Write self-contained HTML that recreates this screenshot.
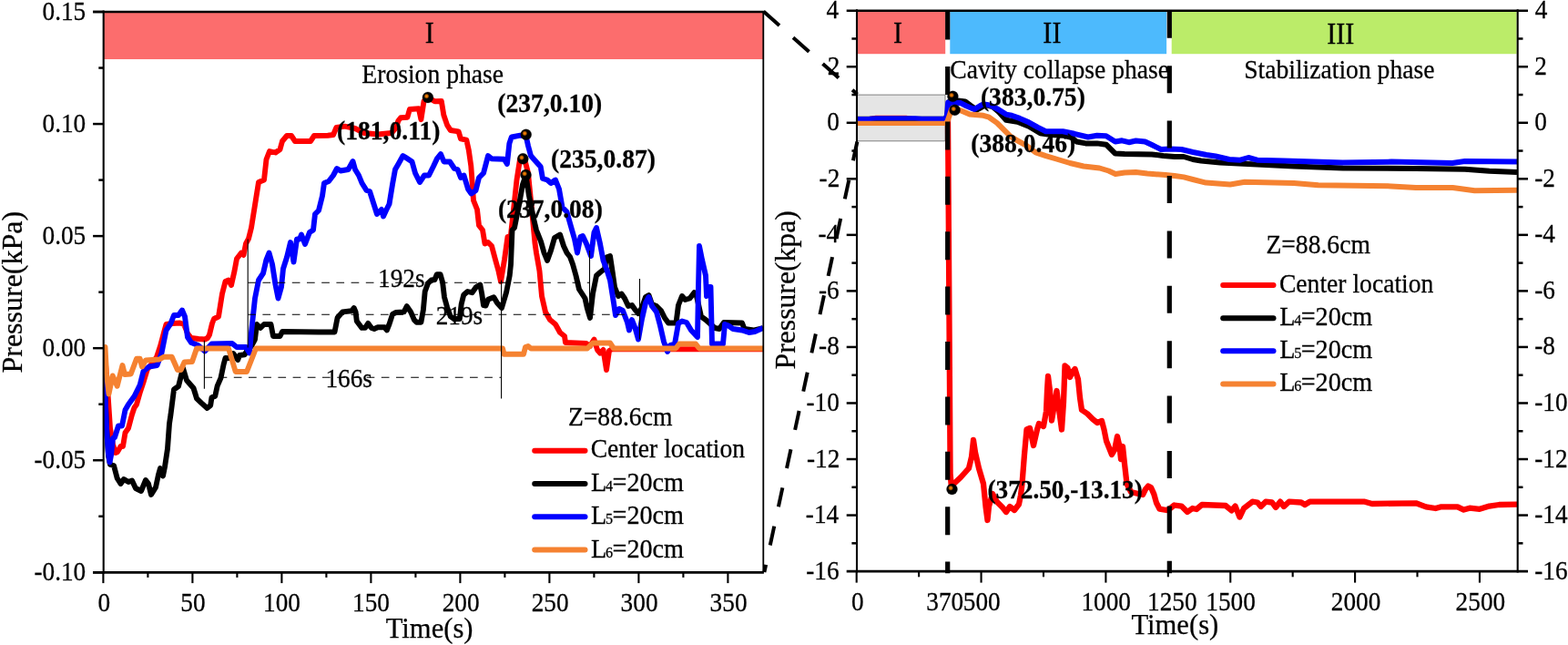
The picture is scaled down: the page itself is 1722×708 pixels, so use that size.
<!DOCTYPE html>
<html><head><meta charset="utf-8"><title>Pressure chart</title>
<style>html,body{margin:0;padding:0;background:#fff;overflow:hidden}svg{display:block}</style></head>
<body>
<svg width="1722" height="708" viewBox="0 0 1722 708" font-family="'Liberation Serif', serif" fill="#000" stroke-linecap="butt">
<defs><radialGradient id="ball" cx="0.5" cy="0.5" r="0.5"><stop offset="0" stop-color="#ff8c10"/><stop offset="0.45" stop-color="#d06a00"/><stop offset="1" stop-color="#000"/></radialGradient>
<clipPath id="cl"><rect x="113.7" y="13" width="724.6" height="615.3"/></clipPath>
<clipPath id="cr"><rect x="941" y="11.7" width="725.7" height="615.3"/></clipPath></defs>
<rect width="1722" height="708" fill="#fff"/>
<g stroke="#000" stroke-width="0.25" id="chart-left">
<rect x="113.7" y="13.0" width="724.6" height="52" fill="#FC6D6D" stroke="none"/>
<g clip-path="url(#cl)" stroke-width="0">
<polyline points="114,382 116,400 119,440 121,470 124,488 127,497 129,496 132.5,490 135,490 137.5,475 141,470 145,455 147.5,447.5 150,444 154,430 158,418 162,405 168,398 172,392 176,380 180,365 182.5,356 190,355 197.5,354.5 202,356 206,366 210,371 218,372 225,372.5 228,371 230,367.5 233,355 235,350 240,347.5 242,335 244,322.5 247.5,309 251,307.5 254,313 257.5,297.5 260,284 265,277.5 267.5,280 270,267.5 273,262 276,250 280,225 284,200 290,197.5 292.5,175 296,166 302.5,167.5 307.5,164 310,155 315,149 320,149 324,155 341,155 345,149 360,148.7 366,148 369.4,140 378.7,138.7 390,141 400,146 415,147.5 430,146 435,140 437.4,132.5 440,129.3 447.4,128.7 449.9,120 459.9,119.3 462.4,131.2 465.5,111.2 469.9,106.9 477.4,111.2 484.8,111 487.3,126.2 491.1,137.4 494.8,143 503.6,144.3 506,152.4 512.3,153.7 514.8,164.9 517.3,182.4 520,220 524,230 526,247.5 530,252.5 532.5,267.5 536,266 540,270 544,285 547.5,297.5 550,309 554,285 557.5,260 560,267 564,230 567.5,197.5 571,175 576,174 580,190 584,230 587.5,267 589,277.5 592.5,297.5 595,325 599,342.5 604,351 610,356 615,365 620,369 621,376 644,377 648,380 652.5,372.5 656,384 659,387.5 662.5,384 666,406 669,385 672,383.3 838,383.3" fill="none" stroke="#FF0000" stroke-width="5.9" stroke-linejoin="round" stroke-linecap="butt" />
<polyline points="114,382 115,420 117,470 119,500 121,510 125,511 128.7,525 132.5,531 136,526 141,529 145,527.5 149,536 155,539 160,527 163,531 166,543 171,535 174,521 176,514 179,522.5 181,512.5 184,492.5 186,465 187.5,455 191,427.5 196,424 201,404 205,417.5 212.5,426 215,434 216,437.4 221.2,442.4 227.5,448 231.2,444.9 232.5,436.2 236.2,434.9 238.7,423.7 242.5,414.9 245.6,400 247.5,393 251.2,393.1 256.2,388.1 261.2,395 263.1,390 268.7,389.3 271.2,385 276,380 280,372.5 282,356 286,360 290,356 297.5,356 300,369 307.5,369 310,364 350,364.5 367.5,364.5 370.6,348.7 376.2,342.4 386.2,341.2 388.7,338 390.6,342.4 391.8,352.4 397.4,359.9 401,359.9 404.3,354.9 408,359.9 411,361 414.9,359.3 422.4,359.3 424.9,362.4 427.4,356.2 431.1,344.9 434.9,343 443.6,342.4 446.8,336.2 451.1,342.4 454.9,351.2 457.4,353.7 462.4,353.7 464.9,340 466.7,320 469.9,311.2 473.6,307.5 477.4,307 479.8,301.2 483.6,301.2 486.1,310 488,326.2 491.1,337.4 494.8,347.4 498.6,350 504.8,350 506.7,333.7 509.2,323.7 513.5,320 518.5,321.2 522.9,315 527.3,312.5 529.2,322.5 531,335 533.5,335.5 536,328.7 542.3,326.2 546,332.5 551,338 556,321.2 559.7,302.5 561,290 562.5,252.5 565,250 570,225 574,202.5 577.5,192.5 581,215 586,240 589,252.5 594,265 597.5,277.5 601,286 605,275 609,261 615,257.5 619,270 622.5,277.5 626,282 629,290 632.5,302.5 636,317.5 642.5,327.5 645,339 648,349 651,322.5 655,302.5 659,299 664,295 666,282.5 670,281 672.5,297.5 675,315 679,325 682.5,322.5 686,327.5 690,336 694,335 697.5,340 701,344 705,337.5 709,326 712.5,324 716,334 721,336 726,341 730,349 734,354.5 742.5,354.5 745,335 749,325 752.5,329 757.5,327.5 762.5,321 765,325 770,347.5 775,351 785,360 790,361 795,354 815,354.5 817.5,361 827.5,362.5 838,360" fill="none" stroke="#000000" stroke-width="5.9" stroke-linejoin="round" stroke-linecap="butt" />
<polyline points="114,382 115,420 117,470 119,498 120.5,507.5 122,500 124,481 126,480 130,467.5 134,467.5 137.5,450 141,444 147.5,435 153.7,422.5 157.5,407.5 163.7,402.5 172.5,401 177.5,387.5 182.5,362.5 187.5,355 191,346 196,346 200,340.5 203,347.5 206,370 210,376 217.5,379 225,385.5 232.5,377.5 255,377 260,381 270,381 274,387.5 276,365 280,327.5 284,307.5 289,300 292.5,285 295.5,277.5 299,290 302.5,312.5 305.5,327.5 309,315 311,295 315,282.5 319,266 322.5,287.5 326,262.5 329,262.5 331,257.5 335,268 340,255 344,252.5 346,235 350,231 354,215 356,201 361,199 366,192.5 370,185 374,187.5 382.5,186 387.5,177 390,186 394,192.5 397.5,201 402.5,209 406,210 410,222.5 414,235 419,230 421,237.5 424,231 427.5,224 431,202.5 434,186 437.5,180 442.5,171 445,172.5 452.5,177.5 456,190 461,200 466,192.5 471,192.5 476,182.5 480,174 484,169 487.5,177.5 494,177.5 499,185 502.5,186 506,195 509.5,192.5 514,207.5 517.5,212.5 522.5,209 526,195 531,190 536,171 540,174.3 553.7,174.8 556.9,180 559.4,157.4 561.8,150.5 571.2,148.7 577.5,148.7 580,160 583,171 587.4,176 593.7,183 596,196 601,197.5 605,201 610,197.5 614,207.5 617.5,227.5 622.5,232.5 626,245 631,262.5 634,277.5 637.5,260 640,259 644,267.5 649,281 652.5,255 655,250 659,267.5 662.5,286 666,295 670,307.5 674,332.5 676,346 680,339 684,341 689,354 691,362.5 694,351 697.5,360 701,372.5 705,350 709,332.5 712.5,326 716,336 721,342.5 725,357.5 729,375 733,386 736,379 741,377.5 745,355 749,352.5 754,354 759,362.5 766,370 767,315 768,270 771,285 775,302.5 776,325 779,315 780.5,315 782,377.5 794,377.5 796,356 800,357.5 805,361 815,362.5 822.5,365 829,364 838,360" fill="none" stroke="#0000FF" stroke-width="5.9" stroke-linejoin="round" stroke-linecap="butt" />
<polyline points="114,382 115.5,381 117,410 119.5,432.5 123.7,412.5 128.7,423.7 134.5,401 137,411 143.7,410.5 150,393.7 153.7,393.7 156,402.5 160,395.5 175,394.5 180,391.7 188.7,391.7 195,406 198.7,406 202.5,397.5 211,397 216,382.5 251,382.5 258.7,408 271,408 281,382.5 552,382.5 553.5,388.7 575,388.7 577,381 580,380 583,382.5 645,382.5 651,376.5 670,376.5 674,382.5 742,382.5 746,377.5 764,377.5 768,382.5 838,382.5" fill="none" stroke="#F58231" stroke-width="5.9" stroke-linejoin="round" stroke-linecap="butt" />
</g>
<line x1="224.4" y1="373.7" x2="224.4" y2="426.8" stroke="#000" stroke-width="1.1" />
<line x1="272.2" y1="262.5" x2="272.2" y2="381.5" stroke="#000" stroke-width="1.1" />
<line x1="550.6" y1="307.5" x2="550.6" y2="437.5" stroke="#000" stroke-width="1.1" />
<line x1="647.5" y1="275" x2="647.5" y2="347.5" stroke="#000" stroke-width="1.1" />
<line x1="702.5" y1="306" x2="702.5" y2="372.5" stroke="#000" stroke-width="1.1" />
<line x1="272.2" y1="310.3" x2="647.5" y2="310.3" stroke="#000" stroke-width="1.1" stroke-dasharray="8.7 7.5"/>
<line x1="272.2" y1="345.3" x2="702.5" y2="345.3" stroke="#000" stroke-width="1.1" stroke-dasharray="8.7 7.5"/>
<line x1="224.4" y1="414.3" x2="550.6" y2="414.3" stroke="#000" stroke-width="1.1" stroke-dasharray="8.7 7.5"/>
<text transform="translate(415.01 315) scale(1.01 1.06)" font-size="27">192s</text>
<text transform="translate(478.64 356.2) scale(1.01 1.06)" font-size="27">219s</text>
<text transform="translate(357.41 424.7) scale(1.01 1.06)" font-size="27">166s</text>
<line x1="113.7" y1="11.6" x2="113.7" y2="629.7" stroke="#000" stroke-width="2.1" />
<line x1="102.1" y1="628.3" x2="838.9" y2="628.3" stroke="#000" stroke-width="2.7" />
<line x1="102.1" y1="13" x2="838.9" y2="13" stroke="#000" stroke-width="2.5" />
<line x1="838.3" y1="13" x2="838.3" y2="628.3" stroke="#000" stroke-width="1.8" />
<line x1="102.1" y1="13" x2="113.7" y2="13" stroke="#000" stroke-width="2.5" />
<text transform="translate(46.5 22) scale(1.01 1.125)" font-size="27">0.15</text>
<line x1="108.3" y1="74.53" x2="113.7" y2="74.53" stroke="#000" stroke-width="2.5" />
<line x1="102.1" y1="136.06" x2="113.7" y2="136.06" stroke="#000" stroke-width="2.5" />
<text transform="translate(46.5 145.06) scale(1.01 1.125)" font-size="27">0.10</text>
<line x1="108.3" y1="197.59" x2="113.7" y2="197.59" stroke="#000" stroke-width="2.5" />
<line x1="102.1" y1="259.12" x2="113.7" y2="259.12" stroke="#000" stroke-width="2.5" />
<text transform="translate(46.5 268.12) scale(1.01 1.125)" font-size="27">0.05</text>
<line x1="108.3" y1="320.65" x2="113.7" y2="320.65" stroke="#000" stroke-width="2.5" />
<line x1="102.1" y1="382.18" x2="113.7" y2="382.18" stroke="#000" stroke-width="2.5" />
<text transform="translate(46.5 391.18) scale(1.01 1.125)" font-size="27">0.00</text>
<line x1="108.3" y1="443.71" x2="113.7" y2="443.71" stroke="#000" stroke-width="2.5" />
<line x1="102.1" y1="505.24" x2="113.7" y2="505.24" stroke="#000" stroke-width="2.5" />
<text transform="translate(37.43 514.24) scale(1.01 1.125)" font-size="27">-0.05</text>
<line x1="108.3" y1="566.77" x2="113.7" y2="566.77" stroke="#000" stroke-width="2.5" />
<line x1="102.1" y1="628.3" x2="113.7" y2="628.3" stroke="#000" stroke-width="2.5" />
<text transform="translate(37.43 637.3) scale(1.01 1.125)" font-size="27">-0.10</text>
<line x1="113.4" y1="628.3" x2="113.4" y2="640.1" stroke="#000" stroke-width="2.1" />
<text transform="translate(107.38 670.8) scale(1.01 1.125)" font-size="27">0</text>
<line x1="162.4" y1="628.3" x2="162.4" y2="633.9" stroke="#000" stroke-width="2.1" />
<line x1="211.4" y1="628.3" x2="211.4" y2="640.1" stroke="#000" stroke-width="2.1" />
<text transform="translate(198.29 670.8) scale(1.01 1.125)" font-size="27">50</text>
<line x1="260.4" y1="628.3" x2="260.4" y2="633.9" stroke="#000" stroke-width="2.1" />
<line x1="309.4" y1="628.3" x2="309.4" y2="640.1" stroke="#000" stroke-width="2.1" />
<text transform="translate(289.07 670.8) scale(1.01 1.125)" font-size="27">100</text>
<line x1="358.4" y1="628.3" x2="358.4" y2="633.9" stroke="#000" stroke-width="2.1" />
<line x1="407.4" y1="628.3" x2="407.4" y2="640.1" stroke="#000" stroke-width="2.1" />
<text transform="translate(387.07 670.8) scale(1.01 1.125)" font-size="27">150</text>
<line x1="456.4" y1="628.3" x2="456.4" y2="633.9" stroke="#000" stroke-width="2.1" />
<line x1="505.4" y1="628.3" x2="505.4" y2="640.1" stroke="#000" stroke-width="2.1" />
<text transform="translate(485.68 670.8) scale(1.01 1.125)" font-size="27">200</text>
<line x1="554.4" y1="628.3" x2="554.4" y2="633.9" stroke="#000" stroke-width="2.1" />
<line x1="603.4" y1="628.3" x2="603.4" y2="640.1" stroke="#000" stroke-width="2.1" />
<text transform="translate(583.68 670.8) scale(1.01 1.125)" font-size="27">250</text>
<line x1="652.4" y1="628.3" x2="652.4" y2="633.9" stroke="#000" stroke-width="2.1" />
<line x1="701.4" y1="628.3" x2="701.4" y2="640.1" stroke="#000" stroke-width="2.1" />
<text transform="translate(681.61 670.8) scale(1.01 1.125)" font-size="27">300</text>
<line x1="750.4" y1="628.3" x2="750.4" y2="633.9" stroke="#000" stroke-width="2.1" />
<line x1="799.4" y1="628.3" x2="799.4" y2="640.1" stroke="#000" stroke-width="2.1" />
<text transform="translate(779.61 670.8) scale(1.01 1.125)" font-size="27">350</text>
<text transform="translate(423.76 699.9) scale(1.0 1.0)" font-size="30.6">Time(s)</text>
<text transform="translate(23.6 320.7) rotate(-90)" font-size="32" text-anchor="middle">Pressure(kPa)</text>
<text transform="translate(466.78 46.8) scale(1.0 1.08)" font-size="30.2">I</text>
<text transform="translate(397.34 91.2) scale(1.023 1.07)" font-size="27">Erosion phase</text>
<circle cx="469.9" cy="106.9" r="6.0" fill="#000"/>
<circle cx="468.5" cy="105.6" r="3.12" fill="url(#ball)"/>
<circle cx="577.7" cy="147.7" r="6.0" fill="#000"/>
<circle cx="576.3" cy="146.4" r="3.12" fill="url(#ball)"/>
<circle cx="574.3" cy="174.3" r="6.0" fill="#000"/>
<circle cx="572.9" cy="173" r="3.12" fill="url(#ball)"/>
<circle cx="577.5" cy="192" r="6.0" fill="#000"/>
<circle cx="576.1" cy="190.7" r="3.12" fill="url(#ball)"/>
<text transform="translate(370.03 153) scale(1.022 1.08)" font-size="27" font-weight="bold">(181,0.11)</text>
<text transform="translate(546.33 123.1) scale(1.022 1.08)" font-size="27" font-weight="bold">(237,0.10)</text>
<text transform="translate(605.03 183.6) scale(1.022 1.08)" font-size="27" font-weight="bold">(235,0.87)</text>
<text transform="translate(546.93 238.6) scale(1.022 1.08)" font-size="27" font-weight="bold">(237,0.08)</text>
<text transform="translate(623.89 467) scale(1.023 1.055)" font-size="27">Z=88.6cm</text>
<line x1="587.2" y1="494.7" x2="642.5" y2="494.7" stroke="#FF0000" stroke-width="6" stroke-linecap="round"/>
<text transform="translate(648.7 502.4) scale(1.023 1.055)" font-size="27">Center location</text>
<line x1="587.2" y1="531" x2="642.5" y2="531" stroke="#000000" stroke-width="6" stroke-linecap="round"/>
<text transform="translate(649.02 539) scale(1.045 1.055)" font-size="27">L<tspan font-size="15.5" dx="-1.2">4</tspan><tspan dx="-0.6">=20cm</tspan></text>
<line x1="587.2" y1="567.3" x2="642.5" y2="567.3" stroke="#0000FF" stroke-width="6" stroke-linecap="round"/>
<text transform="translate(649.02 575.3) scale(1.045 1.055)" font-size="27">L<tspan font-size="15.5" dx="-1.2">5</tspan><tspan dx="-0.6">=20cm</tspan></text>
<line x1="587.2" y1="603.5" x2="642.5" y2="603.5" stroke="#F58231" stroke-width="6" stroke-linecap="round"/>
<text transform="translate(649.02 611.5) scale(1.045 1.055)" font-size="27">L<tspan font-size="15.5" dx="-1.2">6</tspan><tspan dx="-0.6">=20cm</tspan></text>
<line x1="838.5" y1="12.6" x2="941.5" y2="103.6" stroke="#000" stroke-width="4" stroke-dasharray="23.3 20.1"/>
<line x1="839.4" y1="628" x2="941.4" y2="155.5" stroke="#000" stroke-width="4" stroke-dasharray="21.3 21.9" stroke-dashoffset="13"/>
</g>
<g stroke="#000" stroke-width="0.25" id="chart-right">
<rect x="941.0" y="12.8" width="97.2" height="46.4" fill="#FC6D6D" stroke="none"/>
<rect x="1043.3" y="12.8" width="237.8" height="46.4" fill="#4DBAFD" stroke="none"/>
<rect x="1286.7" y="12.8" width="378.9" height="46.4" fill="#BBEC69" stroke="none"/>
<rect x="941.5" y="104.1" width="96.5" height="50.7" fill="#E5E5E5" stroke="#808080" stroke-width="1"/>
<g clip-path="url(#cr)" stroke-width="0">
<polyline points="941,130.5 955,130.4 962,129.3 995,129.3 1002,130.4 1038,130.5 1041,131" fill="none" stroke="#FF0000" stroke-width="5.0" stroke-linejoin="round" stroke-linecap="butt" />
<polyline points="1038,130.5 1041,131 1041.5,200 1042.8,400 1043.6,520 1045,536 1047.5,531 1055,524 1064,514 1067,501.5 1069,483 1071,496.5 1075,514 1080,531 1082.5,556 1084.5,571 1086,556 1090,542 1095,551 1101,557 1105,562 1109,556 1114,560 1119,553.5 1121,543.5 1122.5,531 1125,499 1127.5,471.5 1131,470 1135,489 1139,471.5 1141,465 1146,468 1149,451.5 1150,429 1151,413 1153,429 1155,461.5 1158,444 1160.5,429 1163,449 1166,471.5 1168,441.5 1169.5,401.5 1172.5,404 1175,414 1178,408 1180.5,405 1184,416.5 1186,436.5 1188,450 1194,454 1200,460 1205,464 1210,462 1212.5,471.5 1215,484 1221,499 1224,494 1227,479 1229.5,490 1231,504 1233,490 1235,509 1237.5,531 1242,540 1250,542 1255,543 1258,537 1261,533.5 1264,535 1267.3,542.4 1270,552 1273.5,558.7 1281,560 1284,559 1289.6,554.5 1297.5,555.6 1304,562 1309.6,558 1314,559 1320,554 1346,555 1352.5,560.4 1356.6,555.6 1361.4,567.6 1366,558 1375.4,550.7 1381,551.5 1384.7,556 1390,550.7 1397,551.5 1401,557 1406,550.7 1410,556 1415.6,550.7 1429,551.5 1433,554 1438.4,550.7 1498.8,550.7 1506.8,553 1555,552.3 1566,556.4 1576.6,558 1582,556.4 1600.7,556.4 1607.5,559.6 1614,557.7 1625,558.8 1635.6,555.6 1646.4,554 1666,553.7" fill="none" stroke="#FF0000" stroke-width="6.3" stroke-linejoin="round" stroke-linecap="butt" />
<polyline points="941,130.3 1039,130.3 1040.5,125" fill="none" stroke="#000000" stroke-width="5.2" stroke-linejoin="round" stroke-linecap="butt" />
<polyline points="1039,130.3 1040.5,125 1042,112 1052,110.5 1060,111.5 1066,116 1072.5,120.5 1077.5,118 1082.5,115 1090,117 1097,123 1104.9,131.8 1117.4,133.7 1129.9,138.7 1142.4,146.2 1154.8,148 1167.3,148.7 1177.3,151.2 1182.3,155.5 1192.3,157.4 1204.8,157.4 1214.8,158.7 1219.8,163.7 1224.8,168.6 1235,169 1265,169.5 1277.5,171 1290,172 1300,172 1310,175 1319,176.5 1340,178.4 1421,182.4 1474.6,184.6 1555,185 1609,185.7 1635.6,187.8 1666,189" fill="none" stroke="#000000" stroke-width="6.0" stroke-linejoin="round" stroke-linecap="butt" />
<polyline points="941,130.6 955,130.4 962,129.8 1005,129.8 1012,130.4 1039,130.4 1040.2,125" fill="none" stroke="#0000FF" stroke-width="5.2" stroke-linejoin="round" stroke-linecap="butt" />
<polyline points="1039,130.4 1040.2,125 1041.2,112.5 1055,113.1 1061.2,116.2 1070,120 1076.2,116.2 1079.9,114.3 1087.4,115.6 1096.2,120 1104.9,125.6 1111.1,126.8 1119.9,129.9 1129.9,134.3 1139.9,139.9 1148.6,144.3 1167.3,144.3 1179.8,146.8 1194.8,150.5 1204.8,148.7 1214.8,149.3 1224.8,155.5 1232.2,154.3 1239.7,156.2 1247.5,154.5 1257.5,155.5 1265,159 1275,164 1285,163.5 1297.5,164 1310,167 1325,170 1335,171.5 1350,175 1362,175.7 1371,173 1380.7,175.7 1410,176.5 1474.6,178.4 1528,177.6 1595,179 1608.8,177 1666,177.6" fill="none" stroke="#0000FF" stroke-width="6.0" stroke-linejoin="round" stroke-linecap="butt" />
<polyline points="941,135.4 1039,135.4 1040.5,133" fill="none" stroke="#F58231" stroke-width="5.2" stroke-linejoin="round" stroke-linecap="butt" />
<polyline points="1039,135.4 1040.5,133 1042.5,127.4 1045,120 1055,121.2 1065,125.6 1080,126.8 1086.2,128.7 1094.9,134.9 1102.4,142.4 1109.9,149.9 1117.4,154.3 1127.4,159.9 1137.4,167.4 1148.6,171.1 1160,174.5 1175,179 1190,182.5 1207.5,184.5 1217.5,187.5 1225,191 1235,189.5 1247.5,189 1260,190.5 1280,192 1290,193 1300,194.4 1310,197 1324.4,200.6 1351,202.5 1367,199.8 1421,201 1447.8,203.3 1528,204.4 1555,206 1595.4,206 1619.5,209.2 1666,208.7" fill="none" stroke="#F58231" stroke-width="6.0" stroke-linejoin="round" stroke-linecap="butt" />
</g>
<line x1="1040.7" y1="12.6" x2="1040.7" y2="629.3" stroke="#000" stroke-width="5.2" stroke-dasharray="31 29.4"/>
<line x1="1284.3" y1="11.8" x2="1284.3" y2="629.3" stroke="#000" stroke-width="5.2" stroke-dasharray="30 30.4"/>
<line x1="941" y1="10.3" x2="941" y2="628.5" stroke="#000" stroke-width="2.1" />
<line x1="1666.7" y1="10.3" x2="1666.7" y2="628.5" stroke="#000" stroke-width="2.1" />
<line x1="929.7" y1="627.1" x2="1678" y2="627.1" stroke="#000" stroke-width="2.7" />
<line x1="929.7" y1="11.7" x2="1678" y2="11.7" stroke="#000" stroke-width="2.4" />
<text transform="translate(907.57 20.2) scale(1.01 1.125)" font-size="27">4</text>
<text transform="translate(1685.75 20.2) scale(1.01 1.125)" font-size="27">4</text>
<line x1="935.4" y1="42.47" x2="941" y2="42.47" stroke="#000" stroke-width="2.5" />
<line x1="1666.7" y1="42.47" x2="1672.5" y2="42.47" stroke="#000" stroke-width="2.5" />
<text transform="translate(908.66 81.74) scale(1.01 1.125)" font-size="27">2</text>
<text transform="translate(1685.14 81.74) scale(1.01 1.125)" font-size="27">2</text>
<line x1="929.7" y1="73.24" x2="941" y2="73.24" stroke="#000" stroke-width="2.5" />
<line x1="1666.7" y1="73.24" x2="1678" y2="73.24" stroke="#000" stroke-width="2.5" />
<line x1="935.4" y1="104.01" x2="941" y2="104.01" stroke="#000" stroke-width="2.5" />
<line x1="1666.7" y1="104.01" x2="1672.5" y2="104.01" stroke="#000" stroke-width="2.5" />
<text transform="translate(908.19 143.28) scale(1.01 1.125)" font-size="27">0</text>
<text transform="translate(1685.28 143.28) scale(1.01 1.125)" font-size="27">0</text>
<line x1="929.7" y1="134.78" x2="941" y2="134.78" stroke="#000" stroke-width="2.5" />
<line x1="1666.7" y1="134.78" x2="1678" y2="134.78" stroke="#000" stroke-width="2.5" />
<line x1="935.4" y1="165.55" x2="941" y2="165.55" stroke="#000" stroke-width="2.5" />
<line x1="1666.7" y1="165.55" x2="1672.5" y2="165.55" stroke="#000" stroke-width="2.5" />
<text transform="translate(899.6 204.82) scale(1.01 1.125)" font-size="27">-2</text>
<text transform="translate(1685.28 204.82) scale(1.01 1.125)" font-size="27">-2</text>
<line x1="929.7" y1="196.32" x2="941" y2="196.32" stroke="#000" stroke-width="2.5" />
<line x1="1666.7" y1="196.32" x2="1678" y2="196.32" stroke="#000" stroke-width="2.5" />
<line x1="935.4" y1="227.09" x2="941" y2="227.09" stroke="#000" stroke-width="2.5" />
<line x1="1666.7" y1="227.09" x2="1672.5" y2="227.09" stroke="#000" stroke-width="2.5" />
<text transform="translate(898.51 266.36) scale(1.01 1.125)" font-size="27">-4</text>
<text transform="translate(1685.28 266.36) scale(1.01 1.125)" font-size="27">-4</text>
<line x1="929.7" y1="257.86" x2="941" y2="257.86" stroke="#000" stroke-width="2.5" />
<line x1="1666.7" y1="257.86" x2="1678" y2="257.86" stroke="#000" stroke-width="2.5" />
<line x1="935.4" y1="288.63" x2="941" y2="288.63" stroke="#000" stroke-width="2.5" />
<line x1="1666.7" y1="288.63" x2="1672.5" y2="288.63" stroke="#000" stroke-width="2.5" />
<text transform="translate(898.92 327.9) scale(1.01 1.125)" font-size="27">-6</text>
<text transform="translate(1685.28 327.9) scale(1.01 1.125)" font-size="27">-6</text>
<line x1="929.7" y1="319.4" x2="941" y2="319.4" stroke="#000" stroke-width="2.5" />
<line x1="1666.7" y1="319.4" x2="1678" y2="319.4" stroke="#000" stroke-width="2.5" />
<line x1="935.4" y1="350.17" x2="941" y2="350.17" stroke="#000" stroke-width="2.5" />
<line x1="1666.7" y1="350.17" x2="1672.5" y2="350.17" stroke="#000" stroke-width="2.5" />
<text transform="translate(899.12 389.44) scale(1.01 1.125)" font-size="27">-8</text>
<text transform="translate(1685.28 389.44) scale(1.01 1.125)" font-size="27">-8</text>
<line x1="929.7" y1="380.94" x2="941" y2="380.94" stroke="#000" stroke-width="2.5" />
<line x1="1666.7" y1="380.94" x2="1678" y2="380.94" stroke="#000" stroke-width="2.5" />
<line x1="935.4" y1="411.71" x2="941" y2="411.71" stroke="#000" stroke-width="2.5" />
<line x1="1666.7" y1="411.71" x2="1672.5" y2="411.71" stroke="#000" stroke-width="2.5" />
<text transform="translate(885.49 450.98) scale(1.01 1.125)" font-size="27">-10</text>
<text transform="translate(1685.28 450.98) scale(1.01 1.125)" font-size="27">-10</text>
<line x1="929.7" y1="442.48" x2="941" y2="442.48" stroke="#000" stroke-width="2.5" />
<line x1="1666.7" y1="442.48" x2="1678" y2="442.48" stroke="#000" stroke-width="2.5" />
<line x1="935.4" y1="473.25" x2="941" y2="473.25" stroke="#000" stroke-width="2.5" />
<line x1="1666.7" y1="473.25" x2="1672.5" y2="473.25" stroke="#000" stroke-width="2.5" />
<text transform="translate(885.96 512.52) scale(1.01 1.125)" font-size="27">-12</text>
<text transform="translate(1685.28 512.52) scale(1.01 1.125)" font-size="27">-12</text>
<line x1="929.7" y1="504.02" x2="941" y2="504.02" stroke="#000" stroke-width="2.5" />
<line x1="1666.7" y1="504.02" x2="1678" y2="504.02" stroke="#000" stroke-width="2.5" />
<line x1="935.4" y1="534.79" x2="941" y2="534.79" stroke="#000" stroke-width="2.5" />
<line x1="1666.7" y1="534.79" x2="1672.5" y2="534.79" stroke="#000" stroke-width="2.5" />
<text transform="translate(884.87 574.06) scale(1.01 1.125)" font-size="27">-14</text>
<text transform="translate(1685.28 574.06) scale(1.01 1.125)" font-size="27">-14</text>
<line x1="929.7" y1="565.56" x2="941" y2="565.56" stroke="#000" stroke-width="2.5" />
<line x1="1666.7" y1="565.56" x2="1678" y2="565.56" stroke="#000" stroke-width="2.5" />
<line x1="935.4" y1="596.33" x2="941" y2="596.33" stroke="#000" stroke-width="2.5" />
<line x1="1666.7" y1="596.33" x2="1672.5" y2="596.33" stroke="#000" stroke-width="2.5" />
<text transform="translate(885.28 635.6) scale(1.01 1.125)" font-size="27">-16</text>
<text transform="translate(1685.28 635.6) scale(1.01 1.125)" font-size="27">-16</text>
<line x1="940.7" y1="627.1" x2="940.7" y2="639.6" stroke="#000" stroke-width="2.1" />
<text transform="translate(934.88 669.8) scale(1.01 1.125)" font-size="27">0</text>
<line x1="1009.12" y1="627.1" x2="1009.12" y2="633.3" stroke="#000" stroke-width="2.1" />
<line x1="1077.55" y1="627.1" x2="1077.55" y2="639.6" stroke="#000" stroke-width="2.1" />
<text transform="translate(1057.82 669.8) scale(1.01 1.125)" font-size="27">500</text>
<line x1="1145.97" y1="627.1" x2="1145.97" y2="633.3" stroke="#000" stroke-width="2.1" />
<line x1="1214.4" y1="627.1" x2="1214.4" y2="639.6" stroke="#000" stroke-width="2.1" />
<text transform="translate(1187.45 669.8) scale(1.01 1.125)" font-size="27">1000</text>
<line x1="1282.83" y1="627.1" x2="1282.83" y2="633.3" stroke="#000" stroke-width="2.1" />
<line x1="1351.25" y1="627.1" x2="1351.25" y2="639.6" stroke="#000" stroke-width="2.1" />
<text transform="translate(1324.3 669.8) scale(1.01 1.125)" font-size="27">1500</text>
<line x1="1419.67" y1="627.1" x2="1419.67" y2="633.3" stroke="#000" stroke-width="2.1" />
<line x1="1488.1" y1="627.1" x2="1488.1" y2="639.6" stroke="#000" stroke-width="2.1" />
<text transform="translate(1461.76 669.8) scale(1.01 1.125)" font-size="27">2000</text>
<line x1="1556.52" y1="627.1" x2="1556.52" y2="633.3" stroke="#000" stroke-width="2.1" />
<line x1="1624.95" y1="627.1" x2="1624.95" y2="639.6" stroke="#000" stroke-width="2.1" />
<text transform="translate(1598.61 669.8) scale(1.01 1.125)" font-size="27">2500</text>
<text transform="translate(1017.3 669.8) scale(1.01 1.125)" font-size="27">370</text>
<text transform="translate(1260.01 669.5) scale(1.01 1.125)" font-size="27">1250</text>
<text transform="translate(1242.46 696.2) scale(1.0 1.0)" font-size="30.6">Time(s)</text>
<text transform="translate(873.4 318.3) rotate(-90)" font-size="31.7" text-anchor="middle">Pressure(kpa)</text>
<text transform="translate(980.98 46.5) scale(1.0 1.08)" font-size="30.2">I</text>
<text transform="translate(1145.36 46.8) scale(1.0 1.08)" font-size="30.2">II</text>
<text transform="translate(1457.24 47.5) scale(1.0 1.08)" font-size="30.2">III</text>
<text transform="translate(1043.3 85.6) scale(1.023 1.07)" font-size="27">Cavity collapse phase</text>
<text transform="translate(1366.14 85.6) scale(1.023 1.07)" font-size="27">Stabilization phase</text>
<circle cx="1046.4" cy="105.8" r="6.0" fill="#000"/>
<circle cx="1045" cy="104.5" r="3.12" fill="url(#ball)"/>
<circle cx="1048.6" cy="120.8" r="6.0" fill="#000"/>
<circle cx="1047.2" cy="119.5" r="3.12" fill="url(#ball)"/>
<circle cx="1045.5" cy="537" r="6.0" fill="#000"/>
<circle cx="1044.1" cy="535.7" r="3.12" fill="url(#ball)"/>
<text transform="translate(1076.93 115.7) scale(1.022 1.08)" font-size="27" font-weight="bold">(383,0.75)</text>
<text transform="translate(1066.33 166.8) scale(1.022 1.08)" font-size="27" font-weight="bold">(388,0.46)</text>
<text transform="translate(1084.44 546.9) scale(1.01 1.1)" font-size="27" font-weight="bold">(372.50,-13.13)</text>
<text transform="translate(1390.39 277.5) scale(1.023 1.055)" font-size="27">Z=88.6cm</text>
<line x1="1343.2" y1="313" x2="1398.5" y2="313" stroke="#FF0000" stroke-width="6" stroke-linecap="round"/>
<text transform="translate(1404.9 320.7) scale(1.023 1.055)" font-size="27">Center location</text>
<line x1="1343.2" y1="349.3" x2="1398.5" y2="349.3" stroke="#000000" stroke-width="6" stroke-linecap="round"/>
<text transform="translate(1405.22 357.3) scale(1.045 1.055)" font-size="27">L<tspan font-size="15.5" dx="-1.2">4</tspan><tspan dx="-0.6">=20cm</tspan></text>
<line x1="1343.2" y1="385.3" x2="1398.5" y2="385.3" stroke="#0000FF" stroke-width="6" stroke-linecap="round"/>
<text transform="translate(1405.22 393.3) scale(1.045 1.055)" font-size="27">L<tspan font-size="15.5" dx="-1.2">5</tspan><tspan dx="-0.6">=20cm</tspan></text>
<line x1="1343.2" y1="421.4" x2="1398.5" y2="421.4" stroke="#F58231" stroke-width="6" stroke-linecap="round"/>
<text transform="translate(1405.22 429.4) scale(1.045 1.055)" font-size="27">L<tspan font-size="15.5" dx="-1.2">6</tspan><tspan dx="-0.6">=20cm</tspan></text>
</g>
</svg>
</body></html>
